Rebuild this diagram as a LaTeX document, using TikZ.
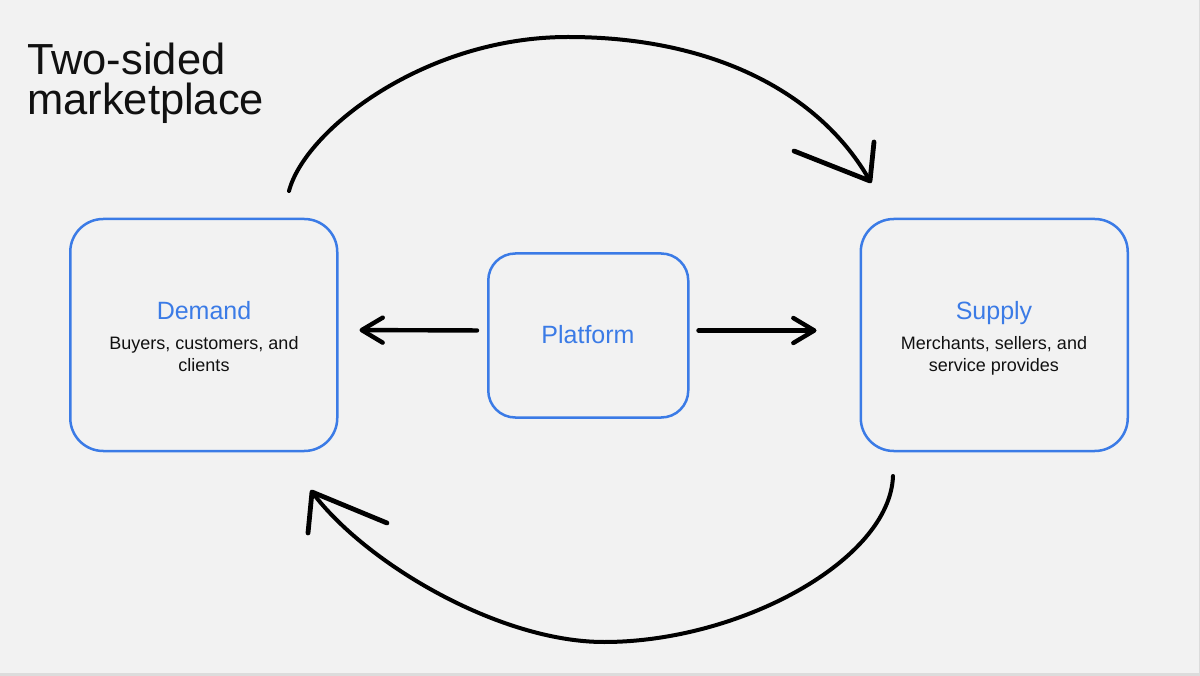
\documentclass[tikz,border=0pt]{standalone}
\usepackage{fontspec}
\setmainfont{Liberation Sans}
\usetikzlibrary{arrows.meta}
\definecolor{bgc}{HTML}{F2F2F2}
\definecolor{edgec}{HTML}{DCDCDC}
\definecolor{boxblue}{HTML}{3B7BE6}
\definecolor{ink}{HTML}{000000}
\definecolor{txt}{HTML}{111111}
\tikzset{
  box/.style={draw=boxblue, line width=2.5pt, rounded corners=33pt, inner sep=0pt},
  lbl/.style={anchor=base, text=boxblue, font=\fontsize{25}{30}\selectfont, inner sep=0pt},
  sub/.style={anchor=base, align=center, text=txt, font=\fontsize{18}{21.5}\selectfont, inner sep=0pt},
  straightarrow/.style={draw=ink, line width=4.4pt, line cap=round,
    -{Straight Barb[length=21pt, width=25pt, line width=4.4pt, round]}},
  bigarc/.style={draw=ink, line width=4pt, line cap=round},
  archead/.style={draw=ink, line width=4.8pt, line cap=round, line join=round}
}
\begin{document}
\begin{tikzpicture}[x=1pt,y=-1pt]
\useasboundingbox (0,0) rectangle (1200,676);
\fill[bgc] (0,0) rectangle (1200,676);
\fill[edgec] (0,673) rectangle (1200,676);
\fill[edgec] (1198.5,0) rectangle (1200,676);

% title (base anchor = baseline of last line)
\node[anchor=base west, align=left, text=txt, inner sep=0pt,
      font=\fontsize{43.5}{40.5}\selectfont] (title) at (27,115) {Two-sided\\marketplace};

% boxes
\node[box, minimum width=267pt, minimum height=232pt] (demand) at (203.75,335) {};
\node[box, minimum width=200pt, minimum height=164pt, rounded corners=27pt] (platform) at (588.25,335.5) {};
\node[box, minimum width=267pt, minimum height=232pt] (supply) at (994.25,335) {};

% labels
\node[lbl] (demandlbl) at (204,320) {Demand};
\node[sub] (demandsub) at (204,371.5) {Buyers, customers, and\\clients};
\node[lbl] (platformlbl) at (588,344) {Platform};
\node[lbl] (supplylbl) at (994,320) {Supply};
\node[sub] (supplysub) at (994,371.5) {Merchants, sellers, and\\service provides};

% straight arrows
\draw[straightarrow, shorten <=10pt, shorten >=21pt]
  ([yshift=5pt]platform.west) -- ([yshift=5pt]demand.east);
\draw[straightarrow, shorten <=9pt, shorten >=43pt]
  ([yshift=5pt]platform.east) -- ([yshift=4.5pt]supply.west);

% top arc: demand -> supply
\coordinate (a0) at (289,191);
\coordinate (atop) at (568,37);
\coordinate (a1) at (870,181);
\draw[bigarc] (a0) .. controls (305,130) and (425,37) .. (atop)
  .. controls (715,37) and (821,94) .. (a1);
\coordinate (ah1) at (794,151);
\coordinate (ah2) at (874,142);
\draw[archead] (ah1) -- (a1) -- (ah2);

% bottom arc: supply -> demand
\coordinate (b0) at (893,476);
\coordinate (bbot) at (604,642);
\coordinate (b1) at (312,492);
\draw[bigarc] (b0) .. controls (890,560) and (740,642) .. (bbot)
  .. controls (500,642) and (366,564) .. (b1);
\coordinate (bh1) at (387,523);
\coordinate (bh2) at (308,533);
\draw[archead] (bh1) -- (b1) -- (bh2);
\end{tikzpicture}
\end{document}
